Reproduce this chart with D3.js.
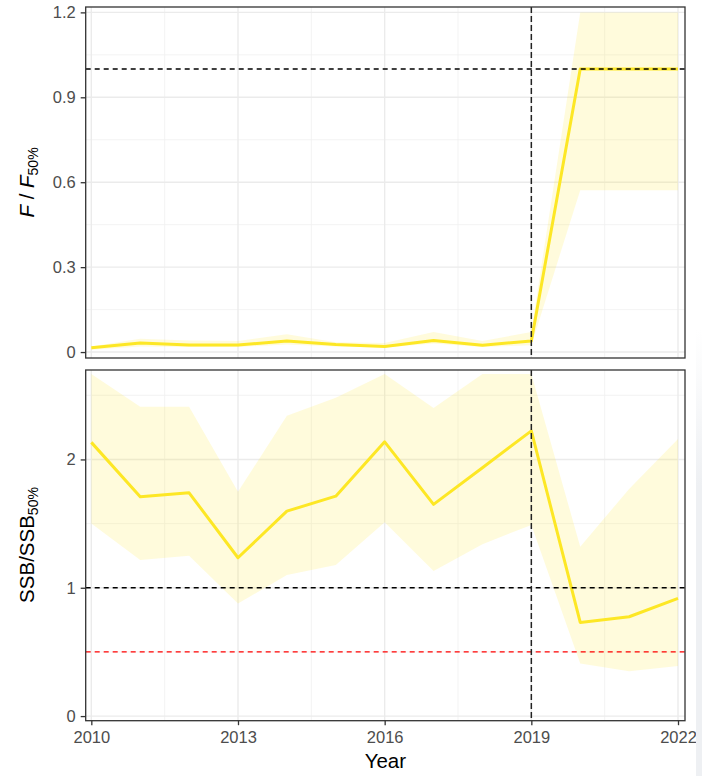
<!DOCTYPE html>
<html>
<head>
<meta charset="utf-8">
<script src="https://cdn.jsdelivr.net/npm/d3@7"></script>
<style>
    body { margin: 0; background: #ffffff; }
    svg { display: block; font-family: "Liberation Sans", Arial, sans-serif; }
</style>
</head>
<body>
<div id="chart"></div>
<script>

// Data
const years = [2010, 2011, 2012, 2013, 2014, 2015, 2016, 2017, 2018, 2019, 2020, 2021, 2022]

const fRatio = [0.015, 0.032, 0.025, 0.025, 0.039, 0.027, 0.020, 0.041, 0.024, 0.039, 1.0, 1.0, 1.0]
const fLower = [0.008, 0.020, 0.018, 0.018, 0.027, 0.020, 0.016, 0.030, 0.018, 0.024, 0.572, 0.572, 0.572]
const fUpper = [0.020, 0.047, 0.041, 0.039, 0.063, 0.035, 0.032, 0.071, 0.039, 0.071, 1.2, 1.2, 1.2]

const ssbRatio = [2.133, 1.709, 1.740, 1.234, 1.597, 1.714, 2.137, 1.650, 1.935, 2.223, 0.730, 0.774, 0.917]
const ssbLower = [1.50, 1.216, 1.25, 0.878, 1.099, 1.177, 1.51, 1.13, 1.34, 1.49, 0.41, 0.35, 0.39]
const ssbUpper = [2.665, 2.41, 2.41, 1.748, 2.34, 2.48, 2.665, 2.40, 2.665, 2.665, 1.32, 1.77, 2.16]

const xTicks = [2010, 2013, 2016, 2019, 2022]
const xMinorTicks = [2011.5, 2014.5, 2017.5, 2020.5]
const fTicks = [0, 0.3, 0.6, 0.9, 1.2]
const fMinorTicks = [0.15, 0.45, 0.75, 1.05]
const ssbTicks = [0, 1, 2]
const ssbMinorTicks = [0.5, 1.5, 2.5]

const projectionStart = 2019
const fRefLines = [{value: 1, color: '#000000'}]
const ssbRefLines = [{value: 1, color: '#000000'}, {value: 0.5, color: '#ff0000'}]

// Layout
const width = 702
const height = 776
const panelLeft = 85.7
const panelRight = 685
const lineColor = '#FDE725'

const svg = d3.select('#chart').append('svg')
    .attr('width', width)
    .attr('height', height)

// Shared x scale
const xScale = d3.scaleLinear()
    .domain([2009.885, 2022.143])
    .range([panelLeft, panelRight])

function drawPanel(id, top, bottom, yDomain, yTicks, yMinor, mid, lower, upper, refLines, yFormat){

    const yScale = d3.scaleLinear()
        .domain(yDomain)
        .range([bottom, top])

    const g = svg.append('g').attr('id', id)

    g.append('clipPath')
        .attr('id', id + '-clip')
        .append('rect')
        .attr('x', panelLeft)
        .attr('y', top)
        .attr('width', panelRight - panelLeft)
        .attr('height', bottom - top)

    // Grid lines
    const grid = g.append('g')
    grid.selectAll('.minor-y')
        .data(yMinor)
        .enter()
        .append('line')
        .attr('x1', panelLeft).attr('x2', panelRight)
        .attr('y1', d=>yScale(d)).attr('y2', d=>yScale(d))
        .style('stroke', '#F0F0F0').style('stroke-width', 0.8)
    grid.selectAll('.minor-x')
        .data(xMinorTicks)
        .enter()
        .append('line')
        .attr('x1', d=>xScale(d)).attr('x2', d=>xScale(d))
        .attr('y1', top).attr('y2', bottom)
        .style('stroke', '#F0F0F0').style('stroke-width', 0.8)
    grid.selectAll('.major-y')
        .data(yTicks)
        .enter()
        .append('line')
        .attr('x1', panelLeft).attr('x2', panelRight)
        .attr('y1', d=>yScale(d)).attr('y2', d=>yScale(d))
        .style('stroke', '#EBEBEB').style('stroke-width', 1.4)
    grid.selectAll('.major-x')
        .data(xTicks)
        .enter()
        .append('line')
        .attr('x1', d=>xScale(d)).attr('x2', d=>xScale(d))
        .attr('y1', top).attr('y2', bottom)
        .style('stroke', '#EBEBEB').style('stroke-width', 1.4)

    // Ribbon and line
    const plot = g.append('g').attr('clip-path', 'url(#' + id + '-clip)')

    const area = d3.area()
        .x((_, i)=>xScale(years[i]))
        .y0((_, i)=>yScale(lower[i]))
        .y1((_, i)=>yScale(upper[i]))

    plot.append('path')
        .datum(mid)
        .attr('d', area)
        .style('fill', lineColor)
        .style('fill-opacity', 0.16)

    const line = d3.line()
        .x((_, i)=>xScale(years[i]))
        .y(d=>yScale(d))

    plot.append('path')
        .datum(mid)
        .attr('d', line)
        .style('fill', 'none')
        .style('stroke', lineColor)
        .style('stroke-width', 3)
        .style('stroke-linejoin', 'round')

    // Reference lines
    plot.selectAll('.ref')
        .data(refLines)
        .enter()
        .append('line')
        .attr('x1', panelLeft).attr('x2', panelRight)
        .attr('y1', d=>yScale(d.value)).attr('y2', d=>yScale(d.value))
        .style('stroke', d=>d.color)
        .style('stroke-width', 1.3)
        .style('stroke-dasharray', '5 4')

    plot.append('line')
        .attr('x1', xScale(projectionStart)).attr('x2', xScale(projectionStart))
        .attr('y1', top).attr('y2', bottom)
        .style('stroke', '#222222')
        .style('stroke-width', 1.5)
        .style('stroke-dasharray', '6 3')

    // Panel border
    g.append('rect')
        .attr('x', panelLeft)
        .attr('y', top)
        .attr('width', panelRight - panelLeft)
        .attr('height', bottom - top)
        .style('fill', 'none')
        .style('stroke', '#333333')
        .style('stroke-width', 1.3)

    // Y axis
    const yAxis = d3.axisLeft(yScale)
        .tickValues(yTicks)
        .tickFormat(yFormat)
        .tickSize(5)
        .tickPadding(5)

    const yAxisG = g.append('g')
        .attr('transform', 'translate(' + panelLeft + ',0)')
        .call(yAxis)
    yAxisG.select('.domain').remove()
    yAxisG.selectAll('.tick line').style('stroke', '#333333').style('stroke-width', 1.3)
    yAxisG.selectAll('.tick text')
        .style('fill', '#4D4D4D')
        .style('font-size', '16.5px')
        .style('font-family', '"Liberation Sans", Arial, sans-serif')

    return yScale
}

// Top panel: F / F50%
drawPanel('f-panel', 7, 358, [-0.021, 1.219], fTicks, fMinorTicks,
    fRatio, fLower, fUpper, fRefLines, d => d === 0 ? '0' : d3.format('.1f')(d))

// Bottom panel: SSB / SSB50%
drawPanel('ssb-panel', 370, 720.7, [-0.036, 2.697], ssbTicks, ssbMinorTicks,
    ssbRatio, ssbLower, ssbUpper, ssbRefLines, d3.format('d'))

// X axis
const xAxis = d3.axisBottom(xScale)
    .tickValues(xTicks)
    .tickFormat(d3.format('d'))
    .tickSize(4.5)
    .tickPadding(6)

const xAxisG = svg.append('g')
    .attr('transform', 'translate(0,720.7)')
    .call(xAxis)
xAxisG.select('.domain').remove()
xAxisG.selectAll('.tick line').style('stroke', '#333333').style('stroke-width', 1.3)
xAxisG.selectAll('.tick text')
    .style('fill', '#4D4D4D')
    .style('font-size', '16.5px')
    .style('font-family', '"Liberation Sans", Arial, sans-serif')

// Axis titles
svg.append('text')
    .attr('x', (panelLeft + panelRight) / 2)
    .attr('y', 768)
    .attr('text-anchor', 'middle')
    .style('font-size', '20.5px')
    .style('fill', '#000000')
    .text('Year')

const fTitle = svg.append('text')
    .attr('transform', 'translate(34,182.5) rotate(-90)')
    .attr('text-anchor', 'middle')
    .style('font-size', '20.5px')
    .style('fill', '#000000')
fTitle.append('tspan').style('font-style', 'italic').text('F')
fTitle.append('tspan').text(' / ')
fTitle.append('tspan').style('font-style', 'italic').text('F')
fTitle.append('tspan').attr('dy', '0.3em').style('font-size', '14px').text('50%')

const ssbTitle = svg.append('text')
    .attr('transform', 'translate(34,545) rotate(-90)')
    .attr('text-anchor', 'middle')
    .style('font-size', '20.5px')
    .style('fill', '#000000')
ssbTitle.append('tspan').text('SSB')
ssbTitle.append('tspan').text('/')
ssbTitle.append('tspan').text('SSB')
ssbTitle.append('tspan').attr('dy', '0.3em').style('font-size', '14px').text('50%')

// Faint strip along the right edge
const edgeGradient = svg.append('defs').append('linearGradient')
    .attr('id', 'edge-fade')
    .attr('x1', 0).attr('y1', 0).attr('x2', 0).attr('y2', 1)
edgeGradient.append('stop').attr('offset', '0%').attr('stop-color', '#EEF0F3').attr('stop-opacity', 0)
edgeGradient.append('stop').attr('offset', '35%').attr('stop-color', '#EEF0F3').attr('stop-opacity', 1)

svg.append('rect')
    .attr('x', 696)
    .attr('y', 330)
    .attr('width', 6)
    .attr('height', height - 330)
    .style('fill', 'url(#edge-fade)')

</script>
</body>
</html>
